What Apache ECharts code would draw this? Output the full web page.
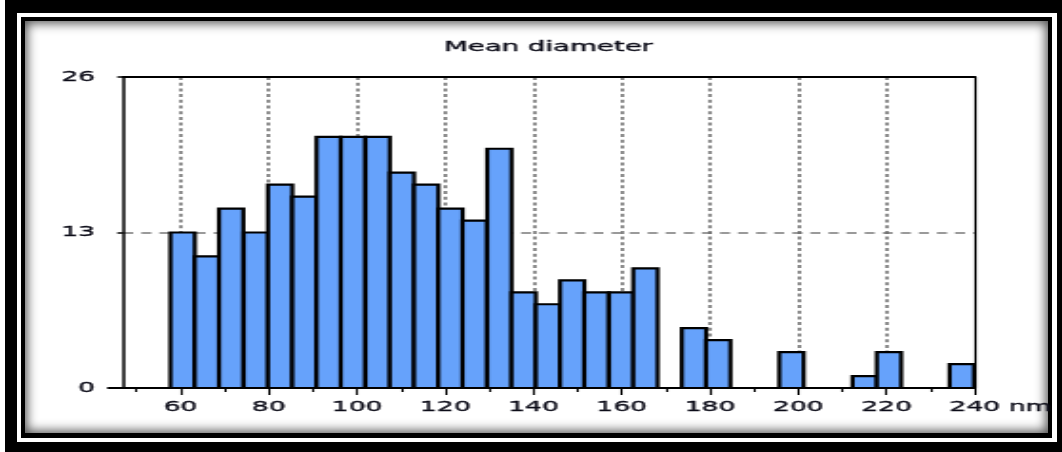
<!DOCTYPE html>
<html>
<head>
<meta charset="utf-8">
<script src="https://cdn.jsdelivr.net/npm/echarts@6/dist/echarts.min.js"></script>
<style>
  html, body { margin: 0; padding: 0; background: #fff; }
  body { width: 1062px; height: 452px; position: relative; overflow: hidden; }
  .box { position: absolute; }
  #outer { left: 5px; top: 0; width: 1057px; height: 452px; background: #000; }
  #gap { left: 17px; top: 13px; width: 1040px; height: 429px; background: #fff; }
  #inner { left: 21px; top: 17px; width: 1031px; height: 421px; background: #000; }
  #panel { left: 25px; top: 21px; width: 1023px; height: 412px; background: #fff;
           box-shadow: inset 0 0 11px 2px rgba(0,0,0,0.7); }
  #chart { position: absolute; left: 0; top: 0; height: 452px; transform-origin: 0 0; z-index: 5; }
</style>
</head>
<body>
<div class="box" id="outer"></div>
<div class="box" id="gap"></div>
<div class="box" id="inner"></div>
<div class="box" id="panel"></div>
<div id="chart"></div>
<script>
// Histogram of mean particle diameter (nm): lower edge of each bin and its count
const binLower = [57.7, 63.2, 68.7, 74.3, 79.8, 85.3, 90.8, 96.3, 101.9, 107.4,
                  112.9, 118.4, 123.9, 129.5, 135.0, 140.5, 146.0, 151.5, 157.1, 162.6,
                  168.1, 173.6, 179.1, 184.7, 190.2, 195.7, 201.2, 206.7, 212.3, 217.8,
                  223.3, 228.8, 234.3];
const binWidth = 5.52;
const counts = [13, 11, 15, 13, 17, 16, 21, 21, 21, 18,
                17, 15, 14, 20, 8, 7, 9, 8, 8, 10,
                0, 5, 4, 0, 0, 3, 0, 0, 1, 3,
                0, 0, 2];

// Axis ticks and labels
const xMajorTicks = [60, 80, 100, 120, 140, 160, 180, 200, 220, 240];
const xMinorTicks = [50, 70, 90, 110, 130, 150, 170, 190, 210, 230];
const xGridLines = [60, 80, 100, 120, 140, 160, 180, 200, 220];
const yTicks = [0, 13, 26];
const xUnit = 'nm';
const title = 'Mean diameter';

// The chart is laid out narrow and stretched horizontally
const SX = 1.9;
const W = 1062, H = 452;
const el = document.getElementById('chart');
el.style.width = (W / SX) + 'px';
el.style.transform = 'scaleX(' + SX + ')';
const hx = v => v / SX;

const FONT = 'DejaVu Sans';
const TXT = '#0c0c18';
const LABEL_SIZE = 14;
const xMin = 47, xMax = 240;
const textInk = { textBorderColor: TXT, textBorderWidth: 0.35 };

const bins = binLower.map((lo, i) => [lo, +(lo + binWidth).toFixed(2), counts[i]])
                     .filter(b => b[2] > 0);

const chart = echarts.init(el, null, { renderer: 'canvas', width: W / SX, height: H });

const baseX = { type: 'value', min: xMin, max: xMax, position: 'bottom' };

chart.setOption({
  animation: false,
  title: {
    text: title,
    left: hx(538), top: 35, textAlign: 'center',
    textStyle: Object.assign({ fontFamily: FONT, fontSize: 14.5, fontWeight: 'normal', color: TXT }, textInk)
  },
  grid: { left: hx(123), right: hx(W - 973), top: 77, bottom: H - 388 },
  xAxis: [
    Object.assign({}, baseX, {
      z: 0,
      axisLine: { show: false },
      axisTick: { show: false, customValues: xGridLines },
      axisLabel: { show: false },
      splitLine: { show: true, lineStyle: { color: '#6a6a6a', width: 1.5, type: [3, 2.7] } }
    }),
    Object.assign({}, baseX, {
      z: 3,
      name: xUnit, nameLocation: 'end', nameGap: hx(34), nameMoveOverlap: false,
      nameTextStyle: Object.assign({ fontFamily: FONT, fontSize: LABEL_SIZE, color: TXT, verticalAlign: 'top', padding: [12, 0, 0, 0] }, textInk),
      axisLine: { show: true, lineStyle: { color: '#000', width: 2 } },
      axisTick: { show: true, length: 7, customValues: xMajorTicks, lineStyle: { color: '#000', width: 1.1 } },
      axisLabel: Object.assign({ show: true, customValues: xMajorTicks, margin: 12, fontFamily: FONT, fontSize: LABEL_SIZE, color: TXT }, textInk),
      splitLine: { show: false }
    }),
    Object.assign({}, baseX, {
      z: 3,
      axisLine: { show: false },
      axisTick: { show: true, length: 4, customValues: xMinorTicks, lineStyle: { color: '#000', width: 1.1 } },
      axisLabel: { show: false },
      splitLine: { show: false }
    }),
    Object.assign({}, baseX, {
      z: 3, position: 'top',
      axisLine: { show: true, lineStyle: { color: '#000', width: 2 } },
      axisTick: { show: false }, axisLabel: { show: false }, splitLine: { show: false }
    })
  ],
  yAxis: [
    {
      type: 'value', min: 0, max: 26, interval: 13, position: 'left', z: 0,
      axisLine: { show: true, lineStyle: { color: '#000', width: 1.5 } },
      axisTick: { show: true, length: hx(6), lineStyle: { color: '#000', width: 1.5 } },
      axisLabel: Object.assign({ show: true, margin: hx(28), fontFamily: FONT, fontSize: LABEL_SIZE, color: TXT }, textInk),
      splitLine: { show: true, lineStyle: { color: '#7a7a7a', width: 1.5, type: [5.3, 4.2] } }
    },
    {
      type: 'value', min: 0, max: 26, position: 'left', z: 3,
      axisLine: { show: false },
      axisTick: { show: true, length: hx(16), customValues: [yTicks[0]], lineStyle: { color: '#000', width: 2 } },
      axisLabel: { show: false }, splitLine: { show: false }
    },
    {
      type: 'value', min: 0, max: 26, position: 'right', z: 3,
      axisLine: { show: true, lineStyle: { color: '#000', width: 1.2 } },
      axisTick: { show: false }, axisLabel: { show: false }, splitLine: { show: false }
    }
  ],
  series: [{
    type: 'custom',
    xAxisIndex: 1, yAxisIndex: 0, z: 2,
    encode: { x: [0, 1], y: 2 },
    data: bins,
    renderItem: function (params, api) {
      const p0 = api.coord([api.value(0), api.value(2)]);
      const p1 = api.coord([api.value(1), 0]);
      return {
        type: 'rect',
        shape: { x: p0[0], y: p0[1], width: p1[0] - p0[0], height: p1[1] - p0[1] },
        style: { fill: '#66a2fb', stroke: '#000', lineWidth: 2.2 }
      };
    }
  }]
});
</script>
</body>
</html>
